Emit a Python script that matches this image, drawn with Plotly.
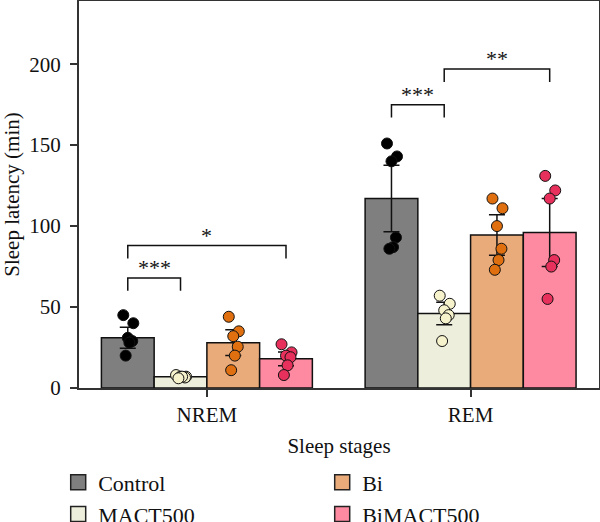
import plotly.graph_objects as go

# ---------------- data ----------------
stages = ["NREM", "REM"]
groups = ["Control", "MACT500", "Bi", "BiMACT500"]

means = {
    "Control":   [31, 117],
    "MACT500":   [7, 46],
    "Bi":        [28, 94.5],
    "BiMACT500": [18, 96],
}
sds = {
    "Control":   [6.5, 20.5],
    "MACT500":   [0.8, 7],
    "Bi":        [8, 12.5],
    "BiMACT500": [4.3, 21],
}
points = {
    "Control":   [[45, 40, 31, 29, 28, 20], [151, 143, 140, 93, 87, 86]],
    "MACT500":   [[8, 7, 7, 6.5, 7, 6], [57, 52, 48, 45, 43, 29]],
    "Bi":        [[44, 35, 32, 25.5, 20, 11], [117, 111, 100, 86, 79, 73]],
    "BiMACT500": [[27, 22, 20, 19, 14, 8], [131, 122, 117, 79, 75, 55]],
}
# significance comparisons: (stage, group A, group B, bracket height, label)
comparisons = [
    ("NREM", "Control", "MACT500", 68, "***"),
    ("NREM", "Control", "BiMACT500", 88, "*"),
    ("REM", "Control", "MACT500", 175, "***"),
    ("REM", "MACT500", "BiMACT500", 197, "**"),
]
y_ticks = [0, 50, 100, 150, 200]

# ---------------- style ----------------
bar_colors = {"Control": "#7f7f7f", "MACT500": "#eeeedc",
              "Bi": "#eaab7b", "BiMACT500": "#fd8aa0"}
dot_colors = {"Control": "#000000", "MACT500": "#f6f2cc",
              "Bi": "#e0700f", "BiMACT500": "#e8305c"}
jitter = [-0.017, 0.021, 0.0, 0.017, 0.006, -0.008]
FONT = "Liberation Serif"
BAR_W = 0.2
legend_order = ["Control", "Bi", "MACT500", "BiMACT500"]

def xpos(stage, group):
    return stages.index(stage) + (groups.index(group) - 1.5) * BAR_W

fig = go.Figure()
for g in groups:
    fig.add_trace(go.Bar(
        x=[xpos(s, g) for s in stages], y=means[g], width=BAR_W,
        marker=dict(color=bar_colors[g], line=dict(color="#111", width=1.5)),
        error_y=dict(type="data", array=sds[g], color="#111", thickness=1.5, width=8),
        showlegend=False, name=g,
    ))
for g in groups:
    xs, ys = [], []
    for si, s in enumerate(stages):
        for j, v in enumerate(points[g][si]):
            xs.append(xpos(s, g) + jitter[j % len(jitter)])
            ys.append(v)
    fig.add_trace(go.Scatter(
        x=xs, y=ys, mode="markers", showlegend=False, name=g,
        marker=dict(size=11, color=dot_colors[g], line=dict(color="#111", width=1)),
    ))
for g in legend_order:
    fig.add_trace(go.Scatter(
        x=[None], y=[None], mode="markers", name=g,
        marker=dict(symbol="square", size=15, color=bar_colors[g],
                    line=dict(color="#222", width=1.5)),
    ))

leg = 8
for stage, a, b, h, lab in comparisons:
    xa, xb = xpos(stage, a), xpos(stage, b)
    fig.add_shape(type="path", xref="x", yref="y",
                  path=f"M {xa} {h-leg} L {xa} {h} L {xb} {h} L {xb} {h-leg}",
                  line=dict(color="#111", width=1.5))
    fig.add_annotation(x=(xa + xb) / 2, y=h, xref="x", yref="y", text=lab,
                       showarrow=False, yanchor="bottom", yshift=-4,
                       font=dict(family=FONT, size=22, color="#111"))

axis_common = dict(showline=True, linecolor="#333", linewidth=2, mirror=True,
                   ticks="outside", ticklen=7, tickwidth=1.5, tickcolor="#333",
                   showgrid=False, zeroline=False,
                   tickfont=dict(family=FONT, size=21, color="#111"))
fig.update_xaxes(range=[-0.485, 1.487], tickvals=[0, 1], ticktext=stages,
                 title=dict(text="Sleep stages", font=dict(family=FONT, size=21, color="#111"), standoff=12),
                 **axis_common)
fig.update_yaxes(range=[0, 239], tickvals=y_ticks, ticklabelstandoff=5,
                 title=dict(text="Sleep latency (min)", font=dict(family=FONT, size=21, color="#111"), standoff=10),
                 **axis_common)
fig.update_layout(
    width=600, height=522, barmode="overlay",
    margin=dict(l=79, r=1, t=1, b=134, autoexpand=False),
    plot_bgcolor="white", paper_bgcolor="white",
    legend=dict(orientation="h", x=-0.04, y=-0.19, xanchor="left", yanchor="top",
                entrywidth=219, font=dict(family=FONT, size=22, color="#111"),
                traceorder="normal", itemclick=False),
)
fig.write_html("out.html")
